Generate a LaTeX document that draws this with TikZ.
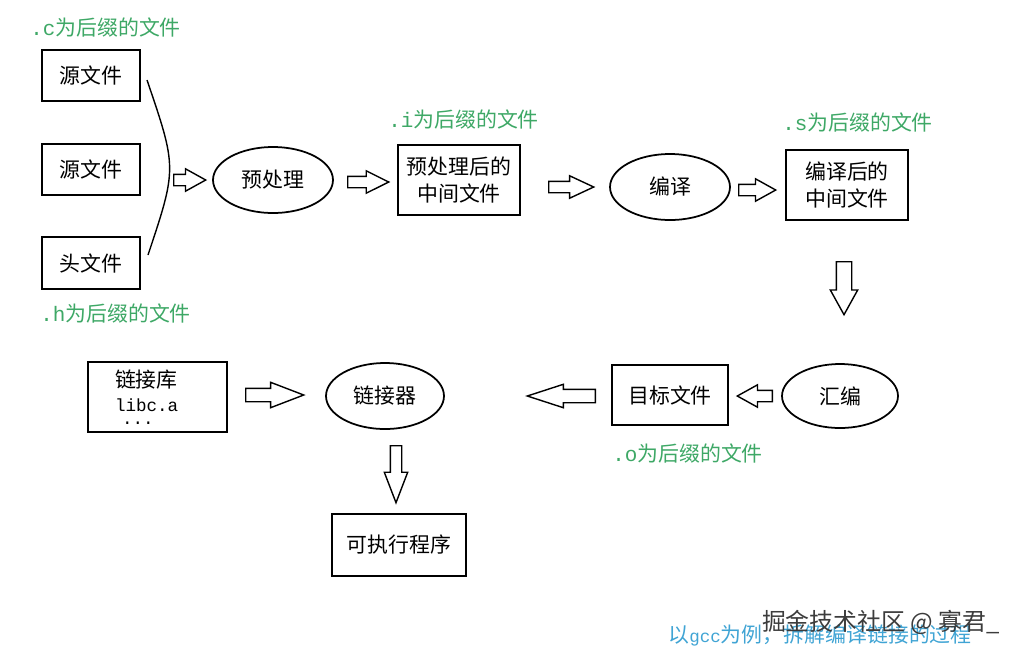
\documentclass[tikz,border=0pt]{standalone}
\usepackage{fontspec}
\setmainfont{Noto Sans CJK SC}
\newfontfamily\monofont{Liberation Mono}
\usetikzlibrary{shapes.geometric,shapes.arrows}
\definecolor{sufgreen}{RGB}{62,168,102}
\definecolor{capblue}{RGB}{64,164,212}
\definecolor{markgray}{RGB}{60,60,60}

\begin{document}
\begin{tikzpicture}[x=0.02cm,y=-0.02cm,
  every node/.style={font=\fontsize{11.9}{15.9}\selectfont},
  box/.style={draw,line width=1pt,inner sep=0pt,align=center},
  oval/.style={draw,ellipse,line width=1pt,inner sep=0pt,minimum width=2.4cm,minimum height=1.32cm},
  suffix/.style={anchor=west,text=sufgreen,inner sep=0pt},
  hollow/.style={draw,single arrow,anchor=tail,line width=0.8pt,inner xsep=0pt,inner ysep=0.1cm,
    minimum width=0.42cm,single arrow head extend=0.11cm,single arrow tip angle=58}]

  \useasboundingbox (0,0) rectangle (1024,657);

  \node[suffix] (lc) at (30,27) {{\monofont .c}为后缀的文件}; %C
  \node[box,minimum width=1.96cm,minimum height=1.02cm] (src1) at (91,75.5) {源文件};
  \node[box,minimum width=1.96cm,minimum height=1.02cm] (src2) at (91,169.5) {源文件};
  \node[box,minimum width=1.96cm,minimum height=1.04cm] (hdr) at (91,263) {头文件};
  \node[suffix] (lh) at (40,313) {{\monofont .h}为后缀的文件}; %H

  \coordinate (btop) at (147,80);
  \coordinate (bbot) at (148,255);
  \draw[line width=0.8pt] (btop) .. controls (177,168) .. (bbot); %OKLEPAJ

  \node[hollow,minimum height=0.64cm] (a1) at (173,180) {};
  \node[oval] (pre) at (273,180) {预处理};
  \node[hollow,minimum height=0.82cm,single arrow tip angle=53] (a2) at (347,182) {};

  \node[suffix] (li) at (388,119) {{\monofont .i}为后缀的文件}; %I
  \node[box,minimum width=2.44cm,minimum height=1.4cm] (ifile) at (459,180) {预处理后的\\中间文件};
  \node[hollow,minimum height=0.9cm,single arrow tip angle=50] (a3) at (548,187) {};
  \node[oval] (cc) at (670,187) {编译};
  \node[hollow,minimum height=0.74cm] (a4) at (738,190) {};

  \node[suffix] (ls) at (782,122) {{\monofont .s}为后缀的文件}; %S
  \node[box,minimum width=2.44cm,minimum height=1.4cm] (sfile) at (847,185) {编译后的\\中间文件};
  \node[hollow,rotate=-90,minimum height=1.06cm,minimum width=0.52cm,inner ysep=0.14cm,
    single arrow head extend=0.12cm] (a5) at (844,261) {}; %DOL

  \node[oval,minimum width=2.32cm,minimum height=1.28cm] (as) at (840,396) {汇编};
  \node[hollow,rotate=180,minimum height=0.7cm] (a6) at (773,396) {};
  \node[box,minimum width=2.32cm,minimum height=1.2cm] (ofile) at (670,395) {目标文件};
  \node[suffix] (lo) at (612,453) {{\monofont .o}为后缀的文件}; %O
  \node[hollow,rotate=180,minimum height=1.36cm,minimum width=0.44cm,inner ysep=0.12cm,
    single arrow head extend=0.1cm,single arrow tip angle=36] (a7) at (596,396) {};

  \node[oval,minimum width=2.36cm] (ld) at (385,396) {链接器};
  \node[hollow,minimum height=1.16cm,minimum width=0.48cm,inner ysep=0.12cm,
    single arrow head extend=0.12cm,single arrow tip angle=42] (a8) at (245,395) {};
  \node[box,minimum width=2.78cm,minimum height=1.4cm,text width=1.7cm,align=left] (lib) at (157.5,397)
    {链接库\\[-2pt]{\monofont\fontsize{10}{12}\selectfont libc.a}\\[-9pt]{\monofont\fontsize{10}{12}\selectfont\hspace{4pt}...}};

  \node[hollow,rotate=-90,minimum height=1.14cm,minimum width=0.44cm,inner ysep=0.1cm,
    single arrow head extend=0.12cm,single arrow tip angle=42] (a9) at (396,445) {}; %DOL
  \node[box,minimum width=2.68cm,minimum height=1.24cm] (exe) at (399,545) {可执行程序};

  \node[anchor=west,inner sep=0pt,text=capblue] (cap) at (668,635)
    {以{\monofont\fontsize{10}{12}\selectfont gcc}为例，拆解编译链接的过程};
  \node[inner sep=0pt,text=markgray,font=\fontsize{13.6}{16}\selectfont] (mark) at (881,622)
    {掘金技术社区 @ 寡君\_};

\end{tikzpicture}
\end{document}
